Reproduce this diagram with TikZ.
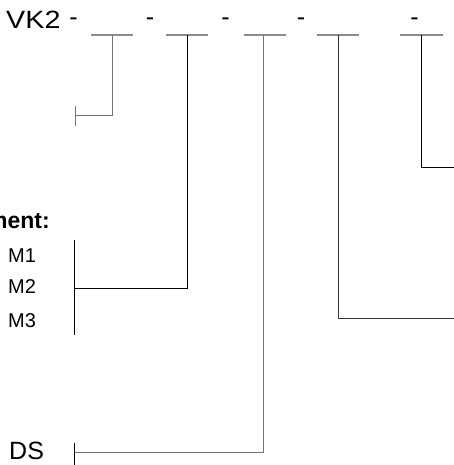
\documentclass[tikz,border=0pt]{standalone}
\usepackage{fontspec}
\setmainfont{Liberation Sans}
\begin{document}
\begin{tikzpicture}[x=1pt,y=-1pt,
  bigtxt/.style={inner sep=0pt,font=\fontsize{25}{25}\selectfont},
  smalltxt/.style={inner sep=0pt,font=\fontsize{20}{20}\selectfont},
  headtxt/.style={inner sep=0pt,font=\fontsize{23}{23}\selectfont\bfseries},
  bar/.style={draw=black!45,line width=1.3pt},
  lead/.style={line width=0.8pt},
  leadgray/.style={line width=0.9pt,draw=black!55}]
\useasboundingbox (0,0) rectangle (454,465);
\clip (0,0) rectangle (454,465);
% title and dashes
\node[bigtxt,anchor=base west,xscale=1.15] (vk) at (6,29) {VK2};
\foreach \i/\x in {1/73.5,2/150,3/225.5,4/301,5/414.5}
  \node[bigtxt] (d\i) at (\x,22) {-};
% bars
\foreach \i/\a/\b in {1/91/133,2/166/208,3/244/286,4/317/359,5/400/443}{
  \coordinate (bl\i) at (\a,35);
  \coordinate (br\i) at (\b,35);
  \draw[bar] (bl\i) -- (br\i);
}
\coordinate (t1) at (112,35);
\coordinate (t2) at (187,35);
\coordinate (t3) at (263,35);
\coordinate (t4) at (338,35);
\coordinate (t5) at (421,35);
% end points
\coordinate (e1) at (75,115);
\coordinate (e1a) at (75,106);
\coordinate (e1b) at (75,126);
\coordinate (e2) at (74,288);
\coordinate (e2a) at (74,240);
\coordinate (e2b) at (74,335);
\coordinate (e3) at (74,452);
\coordinate (e3a) at (74,443);
\coordinate (e3b) at (74,465);
\coordinate (e4) at (455,318);
\coordinate (e5) at (455,167);
% labels
\node[headtxt,anchor=base east] (head) at (50,228) {Arrangement:};
\node[smalltxt,anchor=base west] (m1) at (8,262) {M1};
\node[smalltxt,anchor=base west] (m2) at (8,293) {M2};
\node[smalltxt,anchor=base west] (m3) at (8,327) {M3};
\node[bigtxt,anchor=base west] (ds) at (9,459) {DS};
% connectors
\draw[leadgray] (t1) |- (e1);
\draw[leadgray] (e1a) -- (e1b);
\draw[lead] (t2) |- (e2);
\draw[lead] (e2a) -- (e2b);
\draw[leadgray] (t3) |- (e3);
\draw[lead] (e3a) -- (e3b);
\draw[lead,draw=black!80] (t4) |- (e4);
\draw[lead] (t5) |- (e5);
\end{tikzpicture}
\end{document}
